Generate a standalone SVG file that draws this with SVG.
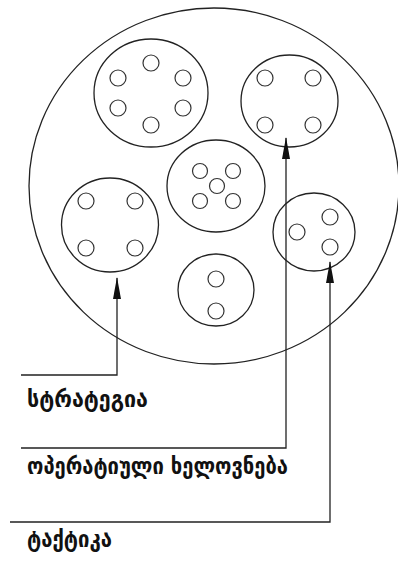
<svg xmlns="http://www.w3.org/2000/svg" width="398" height="563" viewBox="0 0 398 563">
<style>
.c{fill:none;stroke:#222;stroke-width:1.3}
.s{fill:none;stroke:#333;stroke-width:1.2}
.l{fill:none;stroke:#222;stroke-width:1.3}
.t{font-family:"DejaVu Sans",sans-serif;font-size:23px;font-weight:bold;fill:#111}
</style>
<defs>
<marker id="ah" viewBox="0 0 22 8" refX="21" refY="4" markerWidth="22" markerHeight="8" markerUnits="userSpaceOnUse" orient="auto">
<path d="M0,0 L22,4 L0,8 Z" fill="#111"/>
</marker>
</defs>
<rect width="398" height="563" fill="#fff"/>
<g id="outer"><ellipse class="c" cx="214" cy="186" rx="185" ry="178"/></g>
<g id="n1"><ellipse class="c" cx="151" cy="93" rx="57" ry="54"/>
<circle class="s" cx="151" cy="63" r="8"/><circle class="s" cx="118" cy="78" r="8"/><circle class="s" cx="183" cy="78" r="8"/><circle class="s" cx="118" cy="108" r="8"/><circle class="s" cx="183" cy="108" r="8"/><circle class="s" cx="151" cy="125" r="8"/></g>
<g id="n2"><ellipse class="c" cx="289.5" cy="101" rx="48.5" ry="46"/>
<circle class="s" cx="265" cy="78" r="8"/><circle class="s" cx="313" cy="78" r="8"/><circle class="s" cx="265" cy="125" r="8"/><circle class="s" cx="313" cy="125" r="8"/></g>
<g id="n3"><ellipse class="c" cx="216" cy="186" rx="49" ry="46"/>
<circle class="s" cx="200" cy="171" r="7.5"/><circle class="s" cx="233" cy="171" r="7.5"/><circle class="s" cx="217" cy="186" r="7.5"/><circle class="s" cx="200" cy="201" r="7.5"/><circle class="s" cx="233" cy="201" r="7.5"/></g>
<g id="n4"><ellipse class="c" cx="110" cy="225" rx="48.5" ry="47"/>
<circle class="s" cx="86" cy="201" r="8"/><circle class="s" cx="135" cy="201" r="8"/><circle class="s" cx="86" cy="248" r="8"/><circle class="s" cx="135" cy="248" r="8"/></g>
<g id="n5"><ellipse class="c" cx="314" cy="232" rx="41" ry="39"/>
<circle class="s" cx="297" cy="232" r="8"/><circle class="s" cx="330" cy="217" r="8"/><circle class="s" cx="330" cy="247" r="8"/></g>
<g id="n6"><ellipse class="c" cx="216" cy="290" rx="38" ry="36"/>
<circle class="s" cx="216" cy="279" r="8"/><circle class="s" cx="216" cy="311" r="8"/></g>
<g id="connectors">
<polyline class="l" points="21,375 117,375 117,278" marker-end="url(#ah)"/>
<polyline class="l" points="21,448 286,448 286,138" marker-end="url(#ah)"/>
<polyline class="l" points="10,522 330,522 330,262" marker-end="url(#ah)"/>
</g>
<g id="labels">
<text class="t" x="27" y="407" textLength="121" lengthAdjust="spacingAndGlyphs">სტრატეგია</text>
<text class="t" x="27" y="474" textLength="261" lengthAdjust="spacingAndGlyphs">ოპერატიული ხელოვნება</text>
<text class="t" x="27" y="547" textLength="85" lengthAdjust="spacingAndGlyphs">ტაქტიკა</text>
</g>
</svg>
